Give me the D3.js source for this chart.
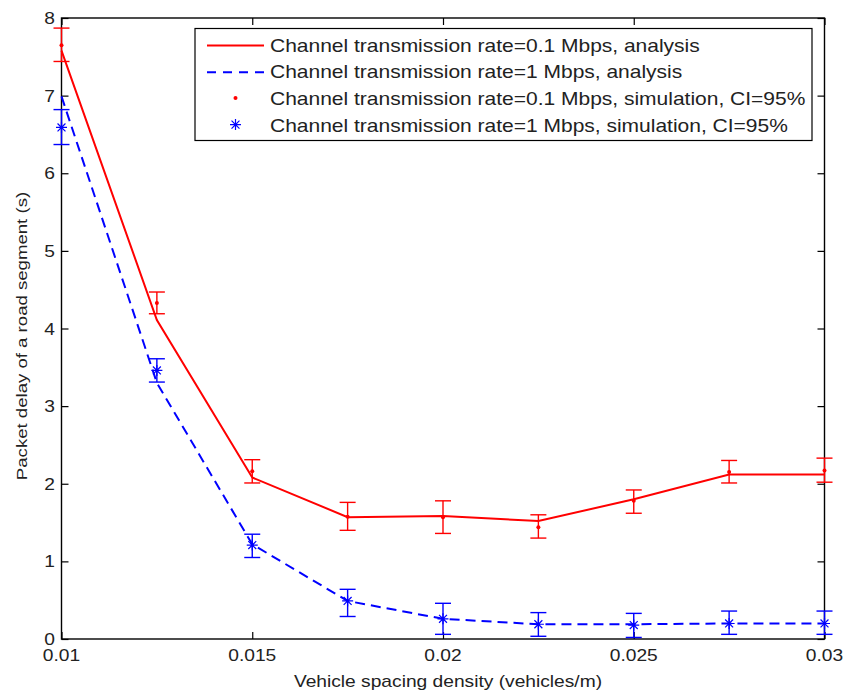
<html>
<head>
	<title>Packet delay vs vehicle spacing density</title>
	<style>
		body { margin: 0; background: #fff; }
		text { font-family: "Liberation Sans", Arial, sans-serif; fill: #222; }
	</style>
</head>
<body>
	<script src="https://cdnjs.cloudflare.com/ajax/libs/d3/7.8.5/d3.min.js"></script>
	<script type="text/javascript">
		// vehicle spacing density (vehicles/m)
		var density = [0.01, 0.0125, 0.015, 0.0175, 0.02, 0.0225, 0.025, 0.0275, 0.03];
		// analysis curves
		var slowAnalysis = [7.58, 4.11, 2.08, 1.57, 1.585, 1.52, 1.80, 2.12, 2.12];
		var fastAnalysis = [6.99, 3.30, 1.22, 0.49, 0.26, 0.19, 0.19, 0.20, 0.20];
		// simulation means and 95% CI bounds
		var slowSim = [7.65, 4.33, 2.16, 1.575, 1.57, 1.44, 1.78, 2.15, 2.17];
		var slowLow = [7.44, 4.19, 2.01, 1.40, 1.36, 1.30, 1.62, 2.01, 2.02];
		var slowHigh = [7.87, 4.47, 2.31, 1.76, 1.78, 1.60, 1.92, 2.30, 2.33];
		var fastSim = [6.59, 3.46, 1.21, 0.49, 0.26, 0.19, 0.18, 0.20, 0.20];
		var fastLow = [6.37, 3.31, 1.05, 0.29, 0.06, 0.035, 0.02, 0.06, 0.06];
		var fastHigh = [6.82, 3.61, 1.35, 0.64, 0.46, 0.34, 0.33, 0.36, 0.36];
		var xTicks = [0.01, 0.015, 0.02, 0.025, 0.03];
		var yTicks = [0, 1, 2, 3, 4, 5, 6, 7, 8];
		var legendLabels = [
			"Channel transmission rate=0.1 Mbps, analysis",
			"Channel transmission rate=1 Mbps, analysis",
			"Channel transmission rate=0.1 Mbps, simulation, CI=95%",
			"Channel transmission rate=1 Mbps, simulation, CI=95%"
		];

		var W = 858, H = 692;
		var m = {left: 61.5, right: 824.5, top: 18, bottom: 639};
		var red = "#ff0000", blue = "#0000ff";
		// the original font is wider than Arial at the same height
		var stretch = 1.2;

		var svg = d3.select("body").append("svg")
					.attr("width", W)
					.attr("height", H);

		var x = d3.scaleLinear().domain([0.01, 0.03]).range([m.left, m.right]);
		var y = d3.scaleLinear().domain([0, 8]).range([m.bottom, m.top]);

		function label(g, px, py, str, size, anchor, rot){
			return g.append("text")
				.attr("transform", "translate(" + px + "," + py + ")" + (rot ? " rotate(-90)" : "") + " scale(" + stretch + ",1)")
				.attr("text-anchor", anchor)
				.style("font-size", size + "px")
				.text(str);
		}

		// axes: ticks pointing inward on all four sides
		svg.append("g")
			.attr("transform", "translate(0," + m.bottom + ")")
			.call(d3.axisTop(x).tickValues(xTicks).tickSize(7).tickFormat(""));
		svg.append("g")
			.attr("transform", "translate(0," + m.top + ")")
			.call(d3.axisBottom(x).tickValues(xTicks).tickSize(7).tickFormat(""));
		svg.append("g")
			.attr("transform", "translate(" + m.left + ",0)")
			.call(d3.axisRight(y).tickValues(yTicks).tickSize(7).tickFormat(""));
		svg.append("g")
			.attr("transform", "translate(" + m.right + ",0)")
			.call(d3.axisLeft(y).tickValues(yTicks).tickSize(7).tickFormat(""));
		svg.selectAll(".domain").remove();
		svg.selectAll(".tick line").style("stroke", "#000").style("stroke-width", "1.2px");
		svg.append("rect")
			.attr("x", m.left).attr("y", m.top)
			.attr("width", m.right - m.left).attr("height", m.bottom - m.top)
			.style("fill", "none").style("stroke", "#000").style("stroke-width", "1.4px");

		// tick labels
		xTicks.forEach(function(d){ label(svg, x(d), 661, d, 16, "middle"); });
		yTicks.forEach(function(d){ label(svg, 55, y(d) + 6, d, 16, "end"); });

		label(svg, (m.left + m.right)/2 + 5, 687, "Vehicle spacing density (vehicles/m)", 16, "middle");
		label(svg, 27, 336, "Packet delay of a road segment (s)", 15.5, "middle", true);

		// error bars
		function errorBars(low, high, color){
			var g = svg.append("g").style("stroke", color).style("stroke-width", "1.4px");
			density.forEach(function(d, i){
				var cx = x(d), cap = 8;
				g.append("line").attr("x1", cx).attr("x2", cx).attr("y1", y(low[i])).attr("y2", y(high[i]));
				g.append("line").attr("x1", cx - cap).attr("x2", cx + cap).attr("y1", y(low[i])).attr("y2", y(low[i]));
				g.append("line").attr("x1", cx - cap).attr("x2", cx + cap).attr("y1", y(high[i])).attr("y2", y(high[i]));
			});
		}
		errorBars(slowLow, slowHigh, red);
		errorBars(fastLow, fastHigh, blue);

		var line = d3.line()
					.x(function(d, i){ return x(density[i]); })
					.y(function(d){ return y(d); });

		svg.append("path")
			.attr("d", line(slowAnalysis))
			.style("fill", "none").style("stroke", red).style("stroke-width", "2px");
		svg.append("path")
			.attr("d", line(fastAnalysis))
			.style("fill", "none").style("stroke", blue).style("stroke-width", "2px")
			.style("stroke-dasharray", "10,6");

		// star marker as 4 crossing strokes
		function star(g, cx, cy, r){
			var a = r*0.72;
			g.append("path")
				.attr("d", "M" + [cx - r, cy] + "L" + [cx + r, cy] +
						"M" + [cx, cy - r] + "L" + [cx, cy + r] +
						"M" + [cx - a, cy - a] + "L" + [cx + a, cy + a] +
						"M" + [cx - a, cy + a] + "L" + [cx + a, cy - a])
				.style("stroke", blue).style("stroke-width", "1.2px").style("fill", "none");
		}

		svg.selectAll(".dot").data(slowSim).enter().append("circle")
			.attr("cx", function(d, i){ return x(density[i]); })
			.attr("cy", function(d){ return y(d); })
			.attr("r", 2)
			.style("fill", red);
		var stars = svg.append("g");
		fastSim.forEach(function(d, i){ star(stars, x(density[i]), y(d), 5.5); });

		// legend
		var lg = svg.append("g");
		lg.append("rect")
			.attr("x", 195).attr("y", 28.5)
			.attr("width", 617).attr("height", 112)
			.style("fill", "#fff").style("stroke", "#000").style("stroke-width", "1.2px");
		var rowY = [51.5, 78.2, 104.9, 131.6];
		lg.append("line").attr("x1", 207).attr("x2", 264).attr("y1", rowY[0] - 6).attr("y2", rowY[0] - 6)
			.style("stroke", red).style("stroke-width", "2px");
		lg.append("line").attr("x1", 207).attr("x2", 264).attr("y1", rowY[1] - 6).attr("y2", rowY[1] - 6)
			.style("stroke", blue).style("stroke-width", "2px").style("stroke-dasharray", "9,7");
		lg.append("circle").attr("cx", 235.5).attr("cy", rowY[2] - 7).attr("r", 2).style("fill", red);
		star(lg, 235.5, rowY[3] - 7, 5.5);
		legendLabels.forEach(function(d, i){ label(lg, 270, rowY[i], d, 17.5, "start"); });
	</script>
</body>
</html>
